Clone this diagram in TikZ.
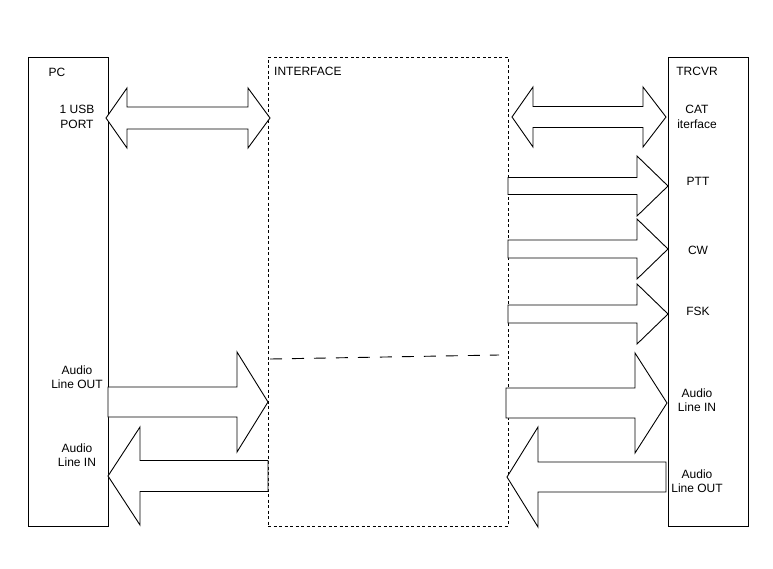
\documentclass[tikz,border=0pt]{standalone}
\usepackage{fontspec}
\setmainfont{Liberation Sans}
\usepackage{tikz}

\tikzset{
  unit/.style={draw, line width=0.9pt, inner sep=0pt, minimum width=80pt, minimum height=469pt},
  iface/.style={draw, line width=0.9pt, dash pattern=on 3pt off 2.5pt, inner sep=0pt, minimum width=240pt, minimum height=469pt},
  blk/.style={draw, line width=0.9pt, fill=white, line join=miter},
  lbl/.style={font=\fontsize{12}{14.5}\selectfont, align=center, inner sep=0pt},
}
% #1 tail x, #2 head base x, #3 tip x, #4 centre y, #5 half shaft, #6 half head
\newcommand{\blockarrow}[6]{%
  \draw[blk] (#1,#4-#5) -- (#2,#4-#5) -- (#2,#4-#6) -- (#3,#4)
    -- (#2,#4+#6) -- (#2,#4+#5) -- (#1,#4+#5) -- cycle;}
% #1 left tip x, #2 left base x, #3 right base x, #4 right tip x, #5 centre y, #6 half shaft, #7 half head
\newcommand{\twowayarrow}[7]{%
  \draw[blk] (#1,#5) -- (#2,#5-#7) -- (#2,#5-#6) -- (#3,#5-#6) -- (#3,#5-#7) -- (#4,#5)
    -- (#3,#5+#7) -- (#3,#5+#6) -- (#2,#5+#6) -- (#2,#5+#7) -- cycle;}

\begin{document}
\begin{tikzpicture}[x=1pt, y=-1pt]
  \useasboundingbox[fill=white] (0,0) rectangle (773,568);

  % units
  \node[unit]  (pc)     at (68,291.5)  {};
  \node[iface] (interf) at (388,291.5) {};
  \node[unit]  (trcvr)  at (708,291.5) {};
  \draw[line width=0.9pt, dash pattern=on 12pt off 10pt] (270,359) -- (499,355);

  % links
  \twowayarrow{106}{127}{248}{270}{118}{11}{30}
  \twowayarrow{512}{533}{643}{666}{117}{10.5}{30}
  \blockarrow{508}{637}{668}{186}{8.5}{30}
  \blockarrow{508}{637}{668}{249}{9}{30}
  \blockarrow{508}{637}{668}{314}{9}{30}
  \blockarrow{108}{237}{268}{402}{15}{50}
  \blockarrow{268}{140}{108}{476}{15.5}{49}
  \blockarrow{506}{635}{667}{403}{15}{50}
  \blockarrow{666}{538}{507}{477}{15}{50}

  % labels
  \node[lbl] (pcname)   at (57,72)   {PC};
  \node[lbl, anchor=west] (ifname) at (274,71) {INTERFACE};
  \node[lbl] (trname)   at (697,71)  {TRCVR};
  \node[lbl] (usb)      at (77,117)  {1 USB\\PORT};
  \node[lbl] (cat)      at (697,117) {CAT\\iterface};
  \node[lbl] (ptt)      at (698,181) {PTT};
  \node[lbl] (cw)       at (698,250) {CW};
  \node[lbl] (fsk)      at (698,311) {FSK};
  \node[lbl] (pcout)    at (77,377)  {Audio\\Line OUT};
  \node[lbl] (pcin)     at (77,455)  {Audio\\Line IN};
  \node[lbl] (trin)     at (697,400) {Audio\\Line IN};
  \node[lbl] (trout)    at (697,481) {Audio\\Line OUT};
\end{tikzpicture}
\end{document}
